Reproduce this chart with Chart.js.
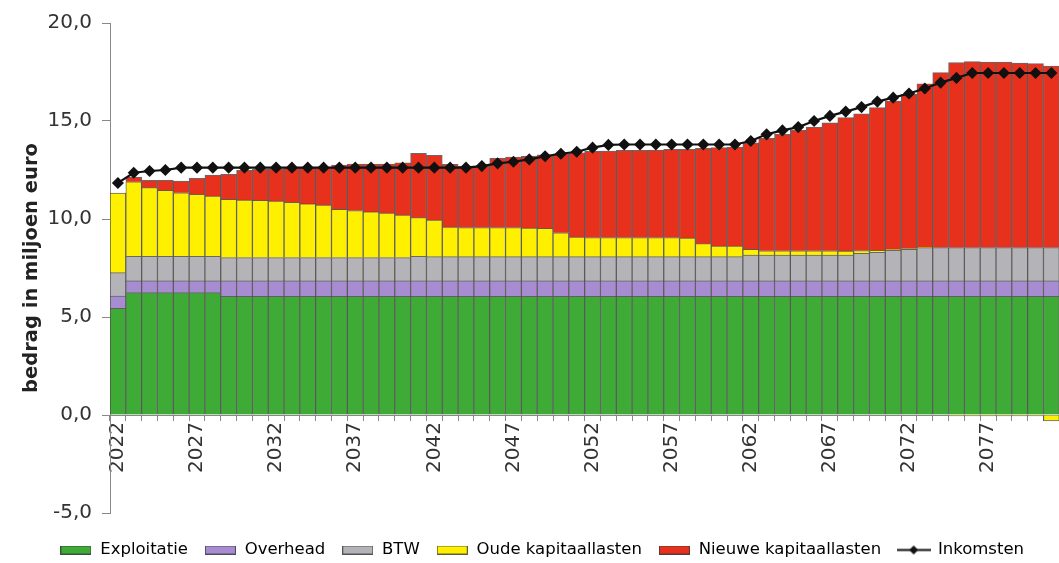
<!DOCTYPE html>
<html>
<head>
<meta charset="utf-8">
<script src="https://cdn.jsdelivr.net/npm/chart.js@4/dist/chart.umd.min.js"></script>
<style>
  html, body { margin: 0; padding: 0; background: #ffffff; overflow: hidden; width: 1059px; height: 563px; }
  #wrap { position: absolute; left: 0; top: 0; width: 1066px; height: 575px; }
</style>
</head>
<body>
<div id="wrap"><canvas id="c" width="1066" height="575"></canvas></div>
<script>
const years = ['2022','2023','2024','2025','2026','2027','2028','2029','2030','2031',
  '2032','2033','2034','2035','2036','2037','2038','2039','2040','2041',
  '2042','2043','2044','2045','2046','2047','2048','2049','2050','2051',
  '2052','2053','2054','2055','2056','2057','2058','2059','2060','2061',
  '2062','2063','2064','2065','2066','2067','2068','2069','2070','2071',
  '2072','2073','2074','2075','2076','2077','2078','2079','2080','2081'];

const exploitatie = [5.44, 6.24, 6.24, 6.24, 6.24, 6.24, 6.24, 6.05, 6.05, 6.05,
  6.05, 6.05, 6.05, 6.05, 6.05, 6.05, 6.05, 6.05, 6.05, 6.05,
  6.05, 6.05, 6.05, 6.05, 6.05, 6.05, 6.05, 6.05, 6.05, 6.05,
  6.05, 6.05, 6.05, 6.05, 6.05, 6.05, 6.05, 6.05, 6.05, 6.05,
  6.05, 6.05, 6.05, 6.05, 6.05, 6.05, 6.05, 6.05, 6.05, 6.05,
  6.05, 6.05, 6.05, 6.05, 6.05, 6.05, 6.05, 6.05, 6.05, 6.05];

const overhead = [0.63, 0.60, 0.60, 0.60, 0.60, 0.60, 0.60, 0.79, 0.79, 0.79,
  0.79, 0.79, 0.79, 0.79, 0.79, 0.79, 0.79, 0.79, 0.79, 0.79,
  0.79, 0.79, 0.79, 0.79, 0.79, 0.79, 0.79, 0.79, 0.79, 0.79,
  0.79, 0.79, 0.79, 0.79, 0.79, 0.79, 0.79, 0.79, 0.79, 0.79,
  0.79, 0.79, 0.79, 0.79, 0.79, 0.79, 0.79, 0.79, 0.79, 0.79,
  0.79, 0.79, 0.79, 0.79, 0.79, 0.79, 0.79, 0.79, 0.79, 0.79];

const btw = [1.19, 1.26, 1.26, 1.26, 1.26, 1.26, 1.26, 1.19, 1.19, 1.19,
  1.19, 1.19, 1.19, 1.19, 1.19, 1.19, 1.19, 1.19, 1.19, 1.26,
  1.24, 1.24, 1.24, 1.24, 1.24, 1.24, 1.24, 1.24, 1.24, 1.24,
  1.24, 1.24, 1.24, 1.24, 1.24, 1.24, 1.24, 1.24, 1.24, 1.24,
  1.32, 1.32, 1.32, 1.32, 1.32, 1.32, 1.32, 1.41, 1.46, 1.56,
  1.61, 1.70, 1.70, 1.70, 1.70, 1.70, 1.70, 1.70, 1.70, 1.70];

const oudeKapitaallasten = [4.06, 3.80, 3.50, 3.36, 3.24, 3.16, 3.07, 2.97, 2.94, 2.92,
  2.88, 2.82, 2.74, 2.68, 2.46, 2.40, 2.33, 2.27, 2.17, 1.97,
  1.87, 1.51, 1.48, 1.48, 1.48, 1.48, 1.46, 1.44, 1.22, 1.00,
  0.97, 0.97, 0.97, 0.97, 0.97, 0.97, 0.95, 0.66, 0.54, 0.54,
  0.29, 0.22, 0.22, 0.22, 0.22, 0.22, 0.20, 0.14, 0.10, 0.06,
  0.04, 0.02, 0.00, -0.05, -0.05, -0.05, -0.05, -0.05, -0.05, -0.30];

const nieuweKapitaallasten = [0.00, 0.24, 0.37, 0.51, 0.60, 0.81, 1.07, 1.28, 1.51, 1.58,
  1.65, 1.73, 1.83, 1.94, 2.26, 2.37, 2.44, 2.50, 2.66, 3.28,
  3.30, 3.20, 3.14, 3.14, 3.54, 3.60, 3.67, 3.75, 4.03, 4.30,
  4.40, 4.42, 4.45, 4.45, 4.47, 4.50, 4.53, 4.86, 5.02, 5.05,
  5.44, 5.74, 5.94, 6.14, 6.31, 6.53, 6.81, 6.98, 7.28, 7.56,
  7.87, 8.34, 8.93, 9.44, 9.49, 9.47, 9.46, 9.42, 9.39, 9.26];

const inkomsten = [11.84, 12.36, 12.45, 12.50, 12.62, 12.62, 12.62, 12.62, 12.62, 12.62,
  12.62, 12.62, 12.62, 12.62, 12.62, 12.62, 12.62, 12.62, 12.62, 12.62,
  12.62, 12.62, 12.62, 12.70, 12.84, 12.92, 13.04, 13.20, 13.33, 13.43,
  13.64, 13.78, 13.80, 13.80, 13.80, 13.80, 13.80, 13.80, 13.80, 13.80,
  13.98, 14.32, 14.52, 14.69, 15.00, 15.26, 15.48, 15.71, 15.99, 16.19,
  16.40, 16.66, 16.96, 17.20, 17.45, 17.45, 17.45, 17.45, 17.45, 17.45];

const yTicks = ['-5,0', '0,0', '5,0', '10,0', '15,0', '20,0'];
const seriesNames = ['Exploitatie', 'Overhead', 'BTW', 'Oude kapitaallasten', 'Nieuwe kapitaallasten', 'Inkomsten'];
const colors = ['#3dab35', '#a78cd2', '#b4b4b8', '#fff000', '#e8311c'];
const FONT = 'DejaVu Sans, Verdana, sans-serif';

function boxImg(color) {
  const cv = document.createElement('canvas');
  cv.width = 31; cv.height = 9;
  const g = cv.getContext('2d');
  g.fillStyle = color; g.fillRect(0, 0, 31, 9);
  g.strokeStyle = 'rgba(60,60,60,0.8)'; g.lineWidth = 1; g.strokeRect(0.5, 0.5, 30, 8);
  return cv;
}
function lineImg() {
  const cv = document.createElement('canvas');
  cv.width = 34; cv.height = 11;
  const g = cv.getContext('2d');
  g.strokeStyle = '#111'; g.lineWidth = 2;
  g.beginPath(); g.moveTo(0, 5.5); g.lineTo(34, 5.5); g.stroke();
  g.fillStyle = '#111';
  g.beginPath(); g.moveTo(17, 1); g.lineTo(21.5, 5.5); g.lineTo(17, 10); g.lineTo(12.5, 5.5); g.closePath(); g.fill();
  return cv;
}

const barData = [exploitatie, overhead, btw, oudeKapitaallasten, nieuweKapitaallasten];
const datasets = barData.map((d, i) => ({
  type: 'bar',
  label: seriesNames[i],
  data: d,
  xAxisID: 'x',
  backgroundColor: colors[i],
  borderColor: 'rgba(55,55,55,0.75)',
  borderWidth: 1,
  stack: 'kosten',
  order: 2,
  categoryPercentage: 1.0,
  barPercentage: 1.0
}));
datasets.push({
  type: 'line',
  label: seriesNames[5],
  data: inkomsten,
  xAxisID: 'x',
  borderColor: '#111',
  backgroundColor: '#111',
  borderWidth: 2.2,
  pointStyle: 'rectRot',
  pointRadius: 4.5,
  pointBackgroundColor: '#111',
  pointBorderColor: '#111',
  stack: 'inkomsten',
  order: 0,
  tension: 0
});

const legendImgs = [boxImg(colors[0]), boxImg(colors[1]), boxImg(colors[2]), boxImg(colors[3]), boxImg(colors[4]), lineImg()];

new Chart(document.getElementById('c'), {
  data: { labels: years, datasets: datasets },
  options: {
    responsive: false,
    animation: false,
    devicePixelRatio: 1,
    layout: { padding: { left: 20, right: 2, top: 23, bottom: 6.75 } },
    plugins: {
      tooltip: { enabled: false },
      legend: {
        position: 'bottom',
        labels: {
          usePointStyle: true,
          pointStyleWidth: 32,
          padding: 16.5,
          color: '#222',
          font: { family: FONT, size: 16.5 },
          generateLabels: (chart) => seriesNames.map((n, i) => ({
            text: n,
            pointStyle: legendImgs[i],
            fillStyle: 'transparent',
            strokeStyle: 'transparent',
            lineWidth: 0,
            hidden: false,
            datasetIndex: i
          }))
        }
      }
    },
    scales: {
      x: {
        type: 'category',
        stacked: true,
        position: { y: 0 },
        offset: true,
        afterFit: (s) => { s.paddingLeft = 0; s.paddingRight = 0; },
        grid: { drawOnChartArea: false, tickLength: 5, color: '#888', offset: true },
        border: { color: '#888', width: 1 },
        ticks: {
          autoSkip: false,
          maxRotation: 90,
          minRotation: 90,
          padding: 2,
          color: '#333',
          font: { family: FONT, size: 20 },
          callback: (v, i) => (i % 5 === 0 ? years[i] : '')
        }
      },
      x2: {
        type: 'category',
        position: 'bottom',
        display: true,
        grid: { display: false, drawTicks: false },
        border: { display: false },
        ticks: { display: false },
        afterFit: (s) => { s.height = 12.25; s.paddingLeft = 0; s.paddingRight = 0; }
      },
      y: {
        stacked: true,
        min: -5,
        max: 20,
        afterFit: (s) => { s.width = 90; },
        grid: { drawOnChartArea: false, tickLength: 8, color: '#888' },
        border: { color: '#888', width: 1 },
        ticks: {
          stepSize: 5,
          padding: 10,
          color: '#333',
          font: { family: FONT, size: 20 },
          callback: (v) => yTicks[Math.round((v + 5) / 5)]
        },
        title: {
          display: true,
          text: 'bedrag in miljoen euro',
          color: '#222',
          padding: { top: 0, bottom: 0 },
          font: { family: FONT, size: 19.5, weight: 'bold' }
        }
      }
    }
  }
});
</script>
</body>
</html>
